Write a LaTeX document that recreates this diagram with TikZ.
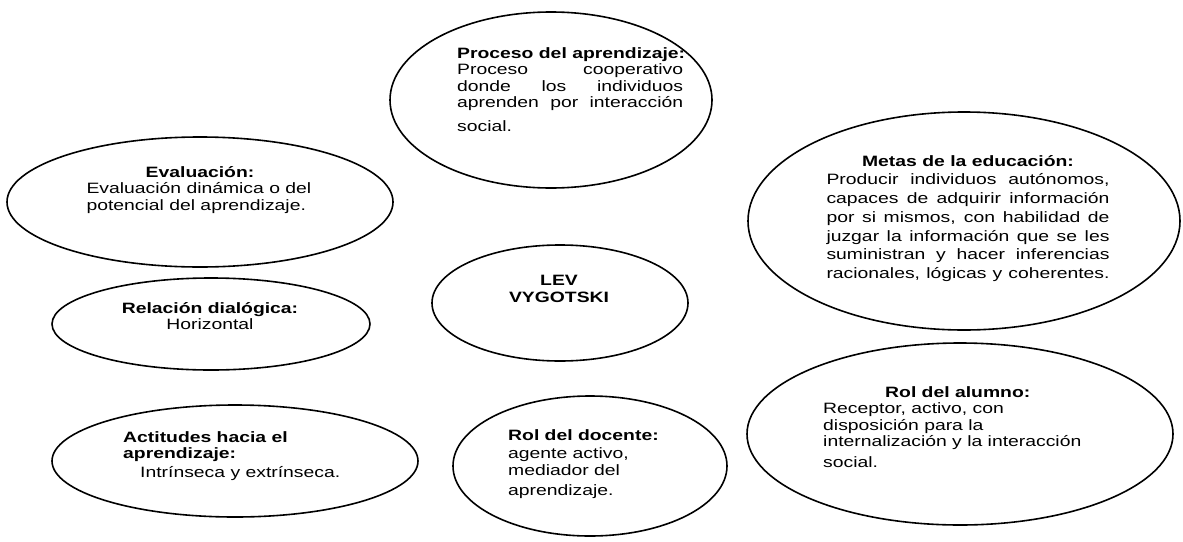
\documentclass[tikz,border=0pt]{standalone}
\usepackage{fontspec}
\setmainfont{Liberation Sans}[FakeStretch=1.29]
\usetikzlibrary{shapes.geometric}
\begin{document}
\begin{tikzpicture}[x=1pt,y=-1pt,
  oval/.style={draw, line width=1.6pt, ellipse, inner sep=0pt},
  txt/.style={inner sep=0pt, font=\fontsize{15pt}{16.5pt}\selectfont}]
\useasboundingbox[fill=white] (0,0) rectangle (1183,541);

% ellipses
\node[oval, minimum width=322pt, minimum height=176pt] (proceso) at (551,100) {};
\node[oval, minimum width=386pt, minimum height=130pt] (evaluacion) at (200,202) {};
\node[oval, minimum width=432pt, minimum height=218pt] (metas) at (964,221) {};
\node[oval, minimum width=318pt, minimum height=92pt] (relacion) at (211,324) {};
\node[oval, minimum width=256pt, minimum height=116pt] (lev) at (560,303) {};
\node[oval, minimum width=366pt, minimum height=112pt] (actitudes) at (235,461) {};
\node[oval, minimum width=274pt, minimum height=140pt] (docente) at (590,466) {};
\node[oval, minimum width=426pt, minimum height=182pt] (alumno) at (960,434) {};

% texts
\node[txt, anchor=north west, align=left] (procesoT) at (457,47)
  {\textbf{Proceso del aprendizaje:}\\
   \makebox[226pt][s]{Proceso cooperativo}\\
   \makebox[226pt][s]{donde los individuos}\\
   \makebox[226pt][s]{aprenden por interacción}\\[7pt]
   social.};

\node[txt, anchor=north, align=center] (evaluacionT) at (200,166)
  {\textbf{Evaluación:}\\
   \makebox[227pt][l]{Evaluación dinámica o del}\\
   \makebox[227pt][l]{potencial del aprendizaje.}};

\node[txt, anchor=north, align=center, font=\fontsize{15pt}{18.7pt}\selectfont] (metasT) at (968,155)
  {\textbf{Metas de la educación:}\\
   \makebox[283pt][s]{Producir individuos autónomos,}\\
   \makebox[283pt][s]{capaces de adquirir información}\\
   \makebox[283pt][s]{por si mismos, con habilidad de}\\
   \makebox[283pt][s]{juzgar la información que se les}\\
   \makebox[283pt][s]{suministran y hacer inferencias}\\
   \makebox[283pt][s]{racionales, lógicas y coherentes.}};

\node[txt, anchor=north, align=center] (relacionT) at (210,302)
  {\textbf{Relación dialógica:}\\ Horizontal};

\node[txt, anchor=north, align=center, font=\bfseries\fontsize{15pt}{16.5pt}\selectfont] (levT) at (559,275)
  {LEV\\ VYGOTSKI};

\node[txt, anchor=north west, align=left] (actitudesT) at (123,431)
  {\textbf{Actitudes hacia el}\\
   \textbf{aprendizaje:}\\[2pt]
   \hspace*{17pt}Intrínseca y extrínseca.};

\node[txt, anchor=north west, align=left] (docenteT) at (508,429)
  {\textbf{Rol del docente:}\\[2pt]
   agente activo,\\
   mediador del\\[4pt]
   aprendizaje.};

\node[txt, anchor=north west, align=left] (alumnoT) at (823,386)
  {\hspace*{62pt}\textbf{Rol del alumno:}\\
   Receptor, activo, con\\
   disposición para la\\
   internalización y la interacción\\[4pt]
   social.};
\end{tikzpicture}
\end{document}
